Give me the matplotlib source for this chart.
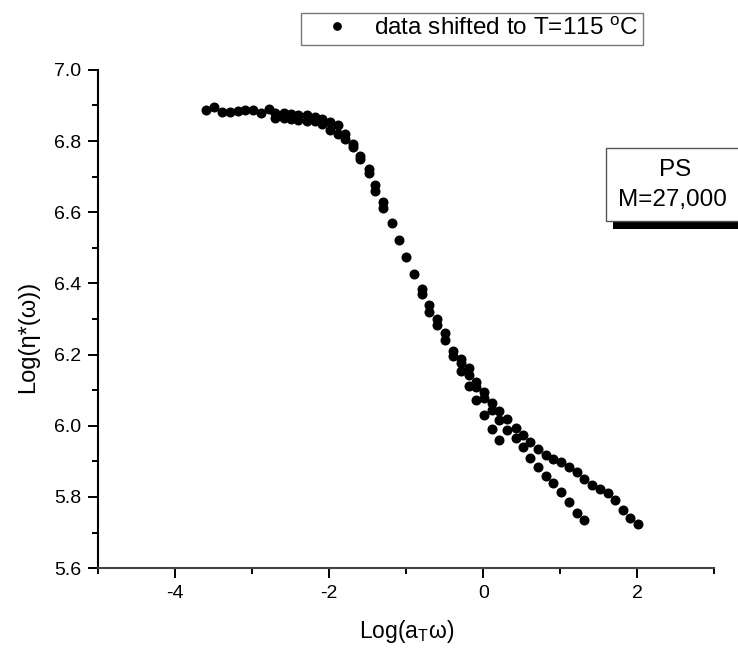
import matplotlib
matplotlib.use('Agg')
import matplotlib.pyplot as plt
from matplotlib.patches import Rectangle

plt.rcParams['font.family'] = ['Liberation Sans', 'DejaVu Sans']
plt.rcParams['mathtext.fontset'] = 'custom'
plt.rcParams['mathtext.rm'] = 'Liberation Sans'
plt.rcParams['mathtext.it'] = 'Liberation Sans:italic'
plt.rcParams['axes.unicode_minus'] = False

# shifted data, upper points at each frequency
x_upper = [-3.60, -3.49, -3.39, -3.29, -3.19, -3.09, -2.99, -2.89, -2.78,
           -2.70, -2.59, -2.50, -2.40, -2.29, -2.19, -2.09, -1.99, -1.89,
           -1.79, -1.69, -1.60, -1.49, -1.40, -1.30, -1.19, -1.09, -1.00,
           -0.90, -0.79, -0.70, -0.60, -0.50, -0.39, -0.29, -0.19, -0.09,
           0.01, 0.11, 0.21, 0.31, 0.42, 0.52, 0.61, 0.71, 0.81, 0.91,
           1.01, 1.11, 1.21, 1.31, 1.41, 1.51, 1.62, 1.71, 1.81, 1.91, 2.01]
y_upper = [6.888, 6.895, 6.882, 6.881, 6.884, 6.887, 6.887, 6.878, 6.890,
           6.878, 6.878, 6.875, 6.872, 6.872, 6.868, 6.863, 6.854, 6.846,
           6.820, 6.792, 6.759, 6.721, 6.677, 6.629, 6.571, 6.522, 6.474,
           6.427, 6.384, 6.340, 6.300, 6.260, 6.209, 6.187, 6.162, 6.122,
           6.094, 6.065, 6.042, 6.020, 5.995, 5.973, 5.953, 5.935, 5.919, 5.907,
           5.897, 5.884, 5.869, 5.850, 5.834, 5.822, 5.811, 5.790, 5.764, 5.741, 5.723]

# second data set
x_lower = [-2.70, -2.59, -2.50, -2.40, -2.29, -2.19, -2.09, -1.99, -1.89,
           -1.79, -1.69, -1.60, -1.49, -1.40, -1.30,
           -0.79, -0.70, -0.60, -0.50, -0.39, -0.29, -0.19, -0.09, 0.01,
           0.11, 0.21, 0.31, 0.42, 0.52, 0.61, 0.71, 0.81, 0.91, 1.01,
           1.11, 1.21, 1.31]
y_lower = [6.864, 6.864, 6.861, 6.860, 6.857, 6.855, 6.847, 6.832, 6.820,
           6.805, 6.784, 6.749, 6.711, 6.660, 6.612,
           6.371, 6.321, 6.284, 6.240, 6.197, 6.176, 6.143, 6.110, 6.078,
           6.045, 6.015, 5.989, 5.965, 5.939, 5.909, 5.883, 5.860, 5.839, 5.813,
           5.785, 5.755, 5.734]

# third, steeper set
x_third = [-0.29, -0.19, -0.09, 0.01, 0.11, 0.21]
y_third = [6.155, 6.113, 6.071, 6.029, 5.991, 5.959]

fig = plt.figure(figsize=(7.38, 6.53), dpi=100)
ax = fig.add_axes([0.133, 0.130, 0.835, 0.763])

ax.plot(x_upper, y_upper, 'o', color='black', markersize=6.2,
        label='data shifted to T=115 $^{\\rm o}$C')
ax.plot(x_lower, y_lower, 'o', color='black', markersize=6.2)
ax.plot(x_third, y_third, 'o', color='black', markersize=6.2)

ax.set_xlim(-5, 3)
ax.set_ylim(5.6, 7.0)
ax.set_xticks([-4, -2, 0, 2])
ax.set_xticks([-5, -3, -1, 1, 3], minor=True)
ax.set_yticks([5.6, 5.8, 6.0, 6.2, 6.4, 6.6, 6.8, 7.0])
ax.set_yticks([5.7, 5.9, 6.1, 6.3, 6.5, 6.7, 6.9], minor=True)
ax.tick_params(which='major', length=7, width=1.4, labelsize=14, pad=5)
ax.tick_params(which='minor', length=4, width=1.4)
ax.spines['top'].set_visible(False)
ax.spines['right'].set_visible(False)
ax.spines['left'].set_linewidth(1.5)
ax.spines['bottom'].set_linewidth(1.5)
ax.spines['bottom'].set_color('#444444')

ax.set_xlabel('Log(a$_{\\rm T}$ω)', fontsize=16.5, labelpad=12)
ax.set_ylabel('Log(η*(ω))', fontsize=17)
ax.yaxis.set_label_coords(-0.096, 0.464)

leg = fig.legend(loc='center', bbox_to_anchor=(0.639, 0.956), fontsize=17.5,
                 frameon=True, fancybox=False, edgecolor='#555555',
                 handlelength=2.6, handletextpad=0.2, borderpad=0.2,
                 markerscale=0.85)
leg.get_frame().set_linewidth(1.0)

# PS label box with shadow, cut by the figure edge
fig.patches.append(Rectangle((613 / 738, 1 - 229 / 653), 140 / 738, 8 / 653,
                             transform=fig.transFigure, facecolor='black',
                             edgecolor='none', zorder=1))
fig.patches.append(Rectangle((606 / 738, 1 - 221 / 653), 140 / 738, 73 / 653,
                             transform=fig.transFigure, facecolor='white',
                             edgecolor='#555555', linewidth=1.0, zorder=2))
fig.text(675 / 738, 1 - 170 / 653, 'PS', fontsize=17.5, ha='center', va='center')
fig.text(672 / 738, 1 - 200 / 653, 'M=27,000', fontsize=17.5, ha='center', va='center')

fig.savefig('out.png', dpi=100)
